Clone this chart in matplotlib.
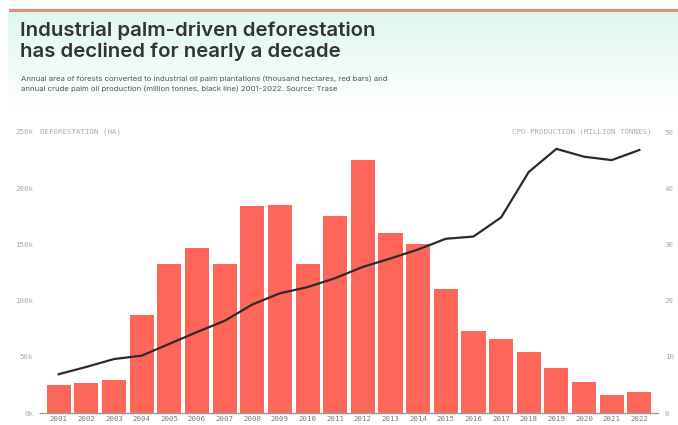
import matplotlib
matplotlib.use("Agg")
import matplotlib.pyplot as plt
import numpy as np

years = list(range(2001, 2023))
deforestation_k = [24.5, 26.5, 29.5, 87, 133, 147, 133, 184, 185, 133, 175, 225,
                   160, 150, 110, 73, 66, 54, 40, 27.5, 15.7, 18.7]
cpo_production = [6.9, 8.2, 9.6, 10.2, 12.3, 14.4, 16.4, 19.3, 21.3, 22.4, 24.0, 26.0,
                  27.5, 29.1, 31.0, 31.4, 34.8, 42.9, 47.0, 45.6, 45.0, 46.8]
left_ticks = [0, 50, 100, 150, 200, 250]
left_labels = ["0k", "50k", "100k", "150k", "200k", "250k"]
right_ticks = [0, 10, 20, 30, 40, 50]

title = "Industrial palm-driven deforestation\nhas declined for nearly a decade"
subtitle = ("Annual area of forests converted to industrial oil palm plantations (thousand hectares, red bars) and\n"
            "annual crude palm oil production (million tonnes, black line) 2001-2022. Source: Trase")

W, H = 678, 425
fig = plt.figure(figsize=(W / 100, H / 100), dpi=100)
fig.patch.set_facecolor("white")

# gradient header panel
bg = fig.add_axes([8 / W, 1 - 112 / H, 1 - 8 / W, 100 / H])
grad = np.linspace(0, 1, 100).reshape(-1, 1)
top = np.array([0.878, 0.969, 0.941])
bot = np.array([1.0, 1.0, 1.0])
img = top[None, None, :] * (1 - grad[:, :, None]) + bot[None, None, :] * grad[:, :, None]
bg.imshow(img, aspect="auto", extent=[0, 1, 0, 1])
bg.set_axis_off()

# top red rule
fig.add_artist(plt.Line2D([10 / W, 1], [1 - 9.5 / H, 1 - 9.5 / H], color="#e88a80", lw=2.2,
                          transform=fig.transFigure))

fig.text(20 / W, 1 - 21 / H, title, ha="left", va="top", fontsize=14.7, fontweight="semibold",
         family="Inter", color="#333333", linespacing=1.2)
fig.text(21 / W, 1 - 76 / H, subtitle, ha="left", va="top", fontsize=5.6,
         family="Inter", color="#555555", linespacing=1.6)

ax = fig.add_axes([40 / W, 12 / H, 618 / W, 281 / H])
ax.set_facecolor("none")
ax.bar(years, deforestation_k, width=0.87, color="#fe665a", zorder=2)
ax.set_xlim(2001 - 0.676, 2022 + 0.673)
ax.set_ylim(0, 250)
ax.set_yticks(left_ticks)
ax.set_yticklabels(left_labels)
ax.set_xticks(years)
ax.set_xticklabels([str(y) for y in years])
for s in ["top", "right", "left"]:
    ax.spines[s].set_visible(False)
ax.spines["bottom"].set_color("#999999")
ax.spines["bottom"].set_linewidth(1.0)
ax.tick_params(axis="y", length=0, pad=5, labelsize=5.3, labelcolor="#aaaaaa")
ax.tick_params(axis="x", length=0, pad=2.5, labelsize=5.3, labelcolor="#777777")
for lab in ax.get_xticklabels() + ax.get_yticklabels():
    lab.set_family("DejaVu Sans Mono")

ax2 = ax.twinx()
ax2.plot(years, cpo_production, color="#2b2b2b", lw=1.6, zorder=3)
ax2.set_ylim(0, 50)
ax2.set_yticks(right_ticks)
ax2.set_yticklabels([str(t) for t in right_ticks])
for s in ["top", "right", "left", "bottom"]:
    ax2.spines[s].set_visible(False)
ax2.tick_params(axis="y", length=0, pad=5, labelsize=5.3, labelcolor="#aaaaaa")
for lab in ax2.get_yticklabels():
    lab.set_family("DejaVu Sans Mono")

ax.text(0, 250, "DEFORESTATION (HA)", transform=ax.get_yaxis_transform(),
        ha="left", va="center", fontsize=5.3, family="DejaVu Sans Mono", color="#aaaaaa")
fig.text(652 / W, 1 - 132 / H, "CPO PRODUCTION (MILLION TONNES)", ha="right", va="center",
         fontsize=5.3, family="DejaVu Sans Mono", color="#aaaaaa")

fig.savefig("out.png", dpi=100)
